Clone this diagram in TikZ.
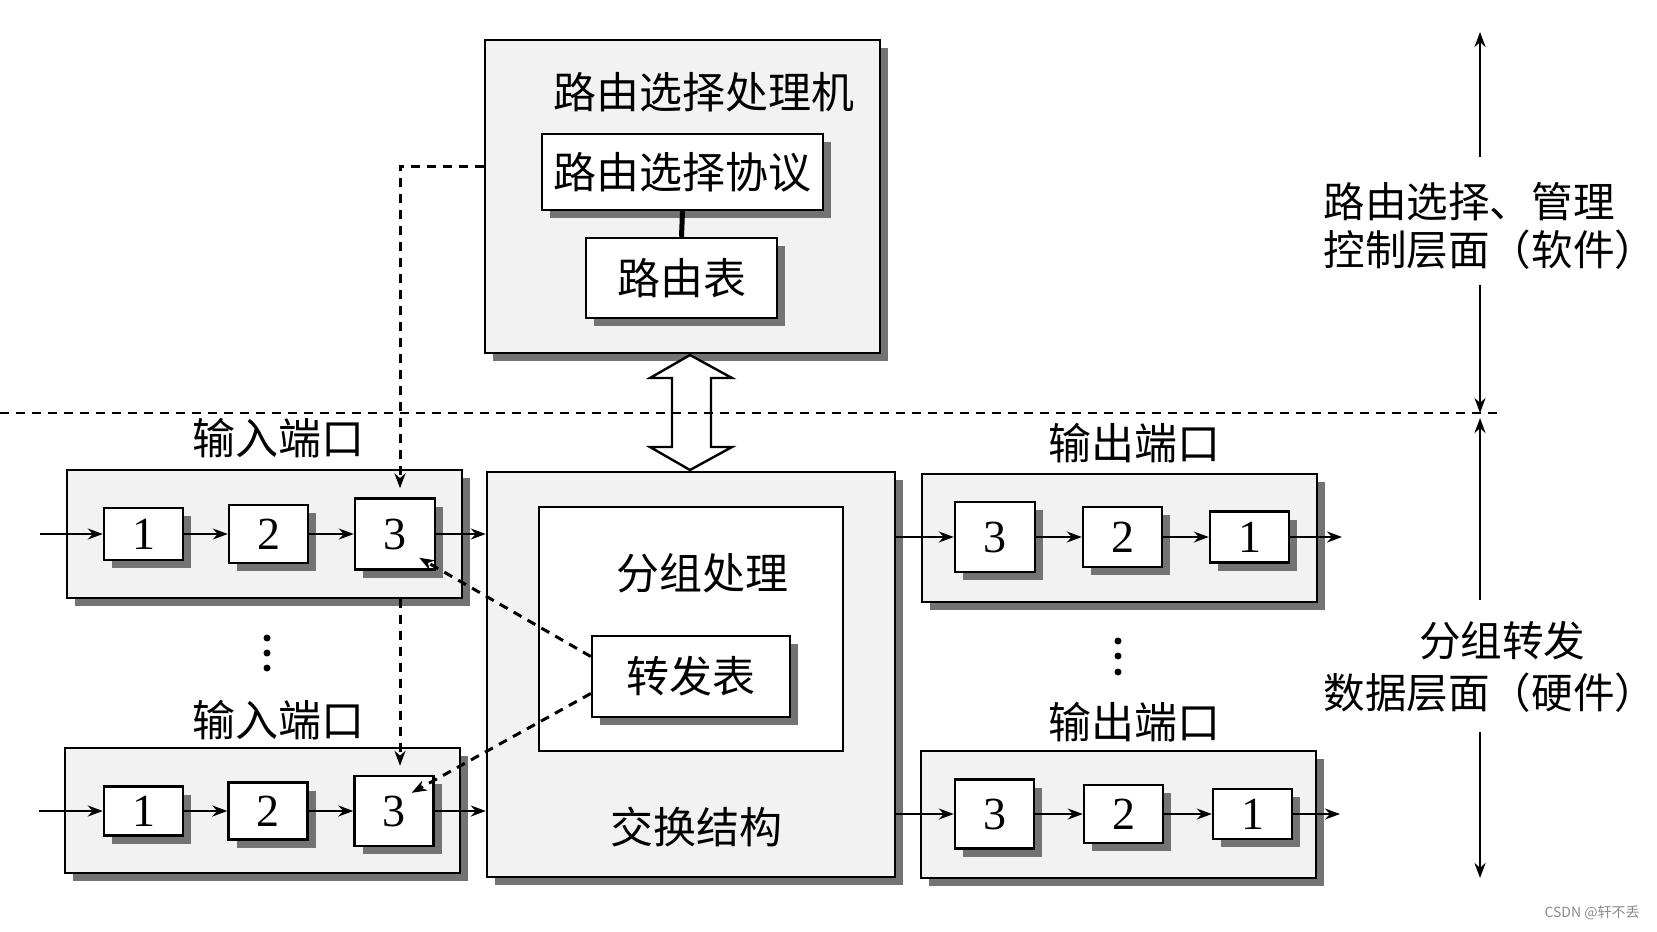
\documentclass[tikz,border=0pt]{standalone}
\usepackage{fontspec}
\setmainfont{Liberation Serif}
\newfontfamily\cjk{Noto Sans CJK SC}
\usetikzlibrary{shadows,calc,arrows.meta}
\begin{document}
\begin{tikzpicture}[x=0.5pt,y=-0.5pt,
  sh/.style={drop shadow={shadow xshift=4pt,shadow yshift=-4pt,fill=black!55,opacity=1}},
  outerbox/.style={draw,line width=1.2pt,fill=black!5,sh,inner sep=0pt},
  plainbox/.style={draw,line width=1.1pt,fill=white,inner sep=0pt},
  numbox/.style={draw,line width=1.2pt,fill=white,sh,inner sep=0pt,minimum width=39.5pt,font=\fontsize{23}{25}\selectfont},
  txtbox/.style={draw,line width=1.2pt,fill=white,sh,inner sep=0pt,font=\cjk\fontsize{21.5}{24}\selectfont},
  lab/.style={font=\cjk\fontsize{21.5}{24}\selectfont,inner sep=0pt},
  sidelab/.style={font=\cjk\fontsize{20.8}{24}\selectfont,inner sep=0pt},
  tip/.style={-{Stealth[length=7.5pt,width=5.5pt]}},
  arr/.style={line width=1.2pt,tip},
  dsh/.style={line width=1.5pt,dash pattern=on 4.5pt off 3.5pt},
  dot/.style={circle,fill=black,inner sep=0pt,minimum size=3.5pt}
]
\useasboundingbox (0,0) rectangle (1657,931);
\fill[white] (0,0) rectangle (1657,931);

% ---------- control plane: routing processor ----------
\node[outerbox,minimum width=197.5pt,minimum height=156.5pt] (rp) at (682.5,196.5) {};
\node[lab] (rpt) at (704,92) {路由选择处理机};
\node[txtbox,minimum width=140.5pt,minimum height=38pt] (proto) at (682.5,172) {路由选择协议};
\node[txtbox,minimum width=95.5pt,minimum height=40pt] (rt) at (681.5,278) {路由表};
\draw[line width=2.5pt] (proto.south) -- (rt.north);

% ---------- switching fabric ----------
\node[outerbox,minimum width=204pt,minimum height=202.5pt] (sw) at (691,674.5) {};
\node[plainbox,minimum width=152pt,minimum height=122pt] (pp) at (691,629) {};
\node[lab] (ppt) at (702,573) {分组处理};
\node[txtbox,minimum width=99pt,minimum height=40.5pt] (ft) at (691,676.5) {转发表};
\node[lab] (swt) at (696.5,827) {交换结构};

% ---------- input ports ----------
\node[outerbox,minimum width=197.5pt,minimum height=64pt] (ip1) at (264.5,534) {};
\node[lab] (ip1t) at (278,438) {输入端口};
\node[numbox,minimum height=26pt] (a1) at (143.5,534) {1};
\node[numbox,minimum height=29pt] (a2) at (268.5,534) {2};
\node[numbox,minimum width=40pt,minimum height=35.5pt] (a3) at (395,534) {3};

\node[outerbox,minimum width=197.5pt,minimum height=62.5pt] (ip2) at (262.5,810.5) {};
\node[lab] (ip2t) at (278,720) {输入端口};
\node[numbox,minimum height=24.5pt] (b1) at (143.5,811) {1};
\node[numbox,minimum height=28.5pt] (b2) at (268,811) {2};
\node[numbox,minimum height=35pt] (b3) at (394,811) {3};

\node[dot] (l1) at (267,638) {};
\node[dot] (l2) at (267,653) {};
\node[dot] (l3) at (267,668) {};

% ---------- output ports ----------
\node[outerbox,minimum width=197.5pt,minimum height=64pt] (op1) at (1119.5,538) {};
\node[lab] (op1t) at (1134,443) {输出端口};
\node[numbox,minimum width=40pt,minimum height=35pt] (c3) at (995,537) {3};
\node[numbox,minimum height=30pt] (c2) at (1122.5,537) {2};
\node[numbox,minimum height=25.5pt] (c1) at (1249.5,537) {1};

\node[outerbox,minimum width=197.5pt,minimum height=63.5pt] (op2) at (1118.5,814.5) {};
\node[lab] (op2t) at (1134,722) {输出端口};
\node[numbox,minimum height=34.5pt] (d3) at (994.5,814) {3};
\node[numbox,minimum height=29pt] (d2) at (1123.5,814) {2};
\node[numbox,minimum height=25pt] (d1) at (1252.5,814) {1};

\node[dot] (r1) at (1118,641) {};
\node[dot] (r2) at (1118,656) {};
\node[dot] (r3) at (1118,672) {};

% ---------- data path arrows ----------
\coordinate (ina) at (40,534);
\coordinate (inb) at (39,811);
\coordinate (outc) at (1342,537);
\coordinate (outd) at (1340,814);
\draw[arr] (ina) -- (a1.west);
\draw[arr] (a1.east) -- (a2.west);
\draw[arr] (a2.east) -- (a3.west);
\draw[arr] (a3.east) -- (a3.east -| sw.west);
\draw[arr] (inb) -- (b1.west);
\draw[arr] (b1.east) -- (b2.west);
\draw[arr] (b2.east) -- (b3.west);
\draw[arr] (b3.east) -- (b3.east -| sw.west);
\draw[arr] (c3.west -| sw.east) -- (c3.west);
\draw[arr] (c3.east) -- (c2.west);
\draw[arr] (c2.east) -- (c1.west);
\draw[arr] (c1.east) -- (outc);
\draw[arr] (d3.west -| sw.east) -- (d3.west);
\draw[arr] (d3.east) -- (d2.west);
\draw[arr] (d2.east) -- (d1.west);
\draw[arr] (d1.east) -- (outd);

% ---------- double arrow between planes ----------
\draw[line width=1.2pt,fill=white,line join=miter]
  (690,355) -- (732,378) -- (711,378) -- (711,447) -- (732,447) -- (690,470)
  -- (650,447) -- (672,447) -- (672,378) -- (650,378) -- cycle;

% ---------- plane separator ----------
\coordinate (sepL) at (0,413);
\coordinate (sepR) at (1498,413);
\draw[dsh,line width=1.2pt] (sepL) -- (sepR);

% ---------- dashed control connectors ----------
\coordinate (dtop) at (400,166);
\draw[dsh,tip] (rp.west |- dtop) -- (dtop) -- ($(dtop |- a3.north)+(0,-9)$);
\draw[dsh,tip] (dtop |- ip1.south) -- ($(dtop |- b3.north)+(0,-9)$);
\draw[dsh,tip] ($(ft.west)+(0,-20)$) -- ($(a3.south east)+(-17,-13)$);
\draw[dsh,tip] ($(ft.west)+(0,17)$) -- ($(b3.north east)+(-23,18)$);

% ---------- right-hand plane labels ----------
\node[sidelab,anchor=west,align=left] (ctl) at (1323,226) {路由选择、管理\\控制层面（软件）};
\node[sidelab,anchor=west,align=center] (dat) at (1323,667) {\hspace*{0.6em}分组转发\\[2pt]数据层面（硬件）};
\coordinate (t0) at (1480,32);
\coordinate (t1) at (1480,157);
\coordinate (t2) at (1480,285);
\coordinate (t3) at (1480,413);
\coordinate (t4) at (1480,418);
\coordinate (t5) at (1480,600);
\coordinate (t6) at (1480,732);
\coordinate (t7) at (1480,878);
\draw[arr] (t1) -- (t0);
\draw[arr] (t2) -- (t3);
\draw[arr] (t5) -- (t4);
\draw[arr] (t6) -- (t7);

% ---------- watermark ----------
\node[font=\cjk\fontsize{7}{8}\selectfont,text=black!45,inner sep=0pt] (wm) at (1592,913) {CSDN @轩不丢};
\end{tikzpicture}
\end{document}
